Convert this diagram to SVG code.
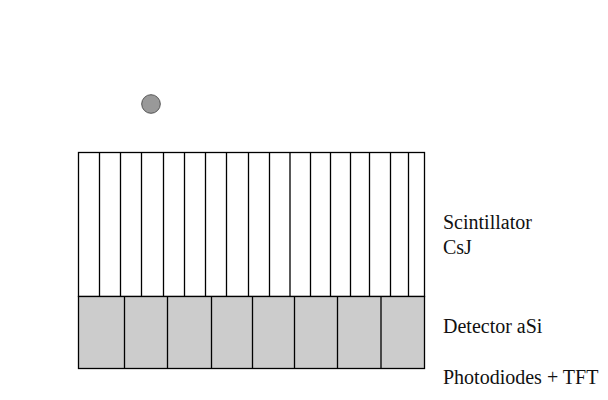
<svg xmlns="http://www.w3.org/2000/svg" width="608" height="400" viewBox="0 0 608 400">
<style>
.ln{stroke:#000;stroke-width:1.3;fill:none}
.scint{fill:#fff;stroke:#000;stroke-width:1.3}
.det{fill:#cccccc;stroke:#000;stroke-width:1.3}
.lbl{font-family:"Liberation Serif","Times New Roman",serif;font-size:20px;fill:#111}
</style>
<rect width="608" height="400" fill="#fff"/>
<g id="particle">
<circle cx="151" cy="104" r="9.3" fill="#999" stroke="#555" stroke-width="1"/>
</g>
<g id="scintillator">
<rect class="scint" x="78.5" y="152.5" width="346" height="144"/>
<path class="ln" d="M99.5 152.5V296.5M120.5 152.5V296.5M141.5 152.5V296.5M163.5 152.5V296.5M184.5 152.5V296.5M205.5 152.5V296.5M226.5 152.5V296.5M248.5 152.5V296.5M269.5 152.5V296.5M290 152.5V296.5M310.5 152.5V296.5M330.5 152.5V296.5M350.5 152.5V296.5M369.5 152.5V296.5M390.5 152.5V296.5M408.5 152.5V296.5"/>
</g>
<g id="detector">
<rect class="det" x="78.5" y="296.5" width="346" height="72"/>
<path class="ln" d="M124.5 296.5V368.5M167.5 296.5V368.5M211.5 296.5V368.5M252.5 296.5V368.5M294.5 296.5V368.5M337.5 296.5V368.5M381 296.5V368.5"/>
</g>
<g id="connectors"></g>
<g id="labels">
<text class="lbl" x="443" y="229">Scintillator</text>
<text class="lbl" x="443" y="254">CsJ</text>
<text class="lbl" x="443" y="333">Detector aSi</text>
<text class="lbl" x="443" y="384">Photodiodes + TFT</text>
</g>
</svg>
